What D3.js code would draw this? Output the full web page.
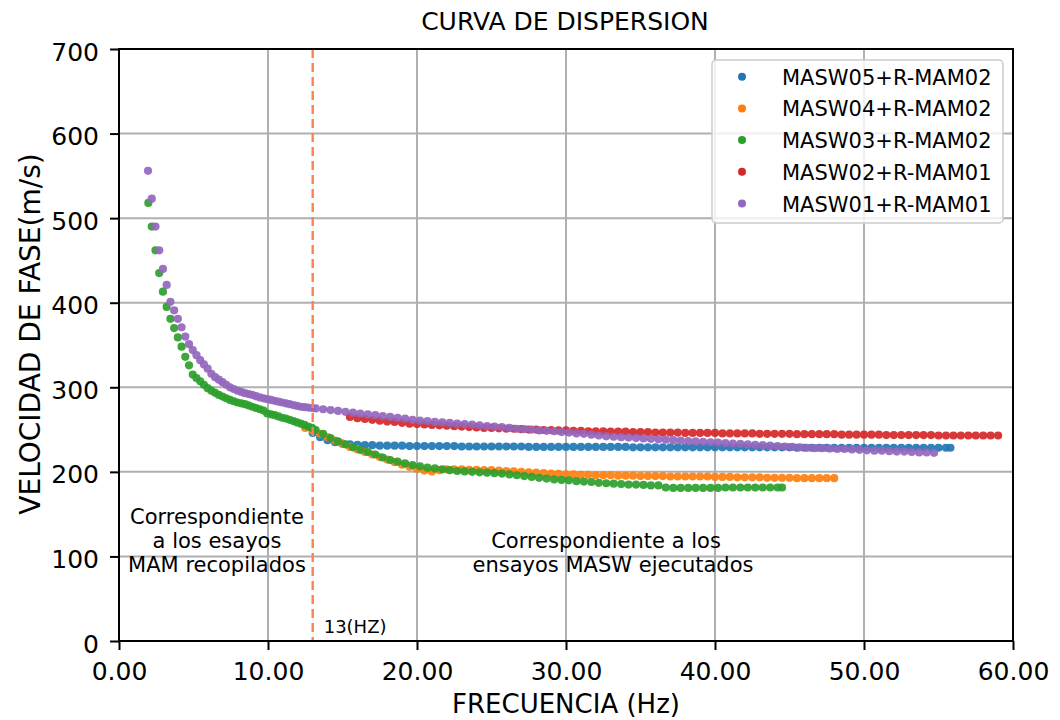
<!DOCTYPE html>
<html>
<head>
<meta charset="utf-8">
<script src="https://cdn.jsdelivr.net/npm/d3@7"></script>
<style>
  body { margin: 0; background: #fff; }
  svg { display: block; }
  text { font-family: "DejaVu Sans", sans-serif; fill: #000; }
</style>
</head>
<body>
<svg id="chart" width="1060" height="720"></svg>
<script>
// Axis ticks
const xTicks = [0, 10, 20, 30, 40, 50, 60];
const yTicks = [0, 100, 200, 300, 400, 500, 600, 700];

// Series names, in legend and drawing order
const seriesNames = ["MASW05+R-MAM02", "MASW04+R-MAM02", "MASW03+R-MAM02", "MASW02+R-MAM01", "MASW01+R-MAM01"];
const seriesColors = ["#1f77b4", "#ff7f0e", "#2ca02c", "#d62728", "#9467bd"];

// [frequency (Hz), phase velocity (m/s)]
const masw05 = [
  [13.0,246],[13.5,241],[14.0,237.5],[14.5,235],[15.0,233.5],[15.5,232.5],[16.0,232],[16.5,231.5],[17.0,231.5],[17.5,231],
  [18.0,231],[18.5,231],[19.0,231],[19.5,230.5],[20.0,230.5],[20.5,230.5],[21.0,230.5],[21.5,230.5],[22.0,230.5],[22.5,230.5],
  [23.0,230],[23.5,230],[24.0,230],[24.5,230],[25.0,230],[25.5,230],[26.0,230],[26.5,230],[27.0,230],[27.5,229.5],
  [28.0,229.5],[28.5,229.5],[29.0,229.5],[29.5,229.5],[30.0,229.5],[30.5,229.5],[31.0,229.5],[31.5,229.5],[32.0,229.5],[32.5,229.5],
  [33.0,229.5],[33.5,229.5],[34.0,229.5],[34.5,229],[35.0,229],[35.5,229],[36.0,229],[36.5,229],[37.0,229],[37.5,229],
  [38.0,229],[38.5,229],[39.0,229],[39.5,229],[40.0,229],[40.5,229],[41.0,229],[41.5,229],[42.0,229],[42.5,229],
  [43.0,229],[43.5,229],[44.0,229],[44.5,229],[45.0,229],[45.5,228.5],[46.0,228.5],[46.5,228.5],[47.0,228.5],[47.5,228.5],
  [48.0,228.5],[48.5,228.5],[49.0,228.5],[49.5,228.5],[50.0,228.5],[50.5,228.5],[51.0,228.5],[51.5,228.5],[52.0,228.5],[52.5,228.5],
  [53.0,228.5],[53.5,228.5],[54.0,228.5],[54.5,228.5],[55.0,228.5],[55.5,228.5],[55.8,228.5]
];

const masw04 = [
  [12.5,252],[13.0,249],[13.5,245],[14.0,241],[14.5,237],[15.0,233],[15.5,229.5],[16.0,226.5],[16.5,223.5],[17.0,220.5],
  [17.5,217.5],[18.0,214.5],[18.5,211.5],[19.0,208.5],[19.5,206],[20.0,203.5],[20.5,201.5],[21.0,200.5],[21.5,202],[22.0,203],
  [22.5,203],[23.0,203],[23.5,202.5],[24.0,202.5],[24.5,202],[25.0,202],[25.5,201.5],[26.0,201],[26.5,200.5],[27.0,200],
  [27.5,199.5],[28.0,199],[28.5,198.5],[29.0,198],[29.5,197.5],[30.0,197],[30.5,197],[31.0,196.5],[31.5,196.5],[32.0,196],
  [32.5,196],[33.0,196],[33.5,195.5],[34.0,195.5],[34.5,195.5],[35.0,195],[35.5,195],[36.0,195],[36.5,195],[37.0,194.5],
  [37.5,194.5],[38.0,194.5],[38.5,194.5],[39.0,194.5],[39.5,194.5],[40.0,194],[40.5,194],[41.0,194],[41.5,193.5],[42.0,193.5],
  [42.5,193.5],[43.0,193.5],[43.5,193],[44.0,193],[44.5,193],[45.0,193],[45.5,192.5],[46.0,192.5],[46.5,192.5],[47.0,192.5],
  [47.5,192.5],[48.0,192.5]
];

const masw03 = [
  [1.97,518],[2.2,490],[2.45,462],[2.7,435],[2.95,413],[3.2,395],[3.45,381],[3.7,370],[3.95,359],[4.2,348],
  [4.45,336],[4.7,326],[4.95,315],[5.2,311],[5.45,307],[5.7,303],[5.95,299],[6.2,296],[6.45,293.5],[6.7,291],
  [6.95,289],[7.2,287],[7.45,285],[7.7,283.5],[7.95,282],[8.2,281],[8.45,280],[8.7,278.5],[8.95,277],[9.2,275.5],
  [9.45,274],[9.7,272.5],[9.95,269],[10.2,268],[10.45,267],[10.7,265.5],[10.95,264],[11.2,263],[11.45,261.5],[11.7,260],
  [11.95,258.5],[12.2,257],[12.45,255.5],[12.7,253.5],[12.95,252],
  [13.2,249.5],[13.7,245],[14.2,240],[14.7,236],[15.2,232.5],[15.7,229],[16.2,226],[16.7,223.5],[17.2,220.5],[17.7,217],
  [18.2,214],[18.7,212],[19.2,210],[19.7,208],[20.2,206.5],[20.7,205],[21.2,204],[21.7,203],[22.2,202],[22.7,201],
  [23.2,200.5],[23.7,200],[24.2,199.5],[24.7,199],[25.2,198.5],[25.7,198],[26.2,197],[26.7,196],[27.2,195],[27.7,194],
  [28.2,193],[28.7,192],[29.2,191],[29.7,190.5],[30.2,190],[30.7,189],[31.2,188.5],[31.7,188],[32.2,187],[32.7,186.5],
  [33.2,186],[33.7,185.5],[34.2,185],[34.7,185],[35.2,184.5],[35.7,184],[36.2,184],[36.7,181.5],[37.2,181],[37.7,181],
  [38.2,181],[38.7,181],[39.2,181],[39.7,181],[40.2,181],[40.7,181.5],[41.2,181.5],[41.7,181.5],[42.2,181.5],[42.7,181.5],
  [43.2,181.5],[43.7,181.5],[44.2,181.5],[44.5,181.5]
];

const masw02 = [
  [15.5,265],[16.0,263.5],[16.5,262.5],[17.0,261.5],[17.5,260.5],[18.0,259.5],[18.5,259],[19.0,258],[19.5,257],[20.0,256.5],
  [20.5,256],[21.0,255.5],[21.5,255],[22.0,254.5],[22.5,254],[23.0,253.5],[23.5,253],[24.0,252.5],[24.5,252],[25.0,252],
  [25.5,251.5],[26.0,251],[26.5,251],[27.0,250.5],[27.5,250],[28.0,250],[28.5,249.5],[29.0,249.5],[29.5,249],[30.0,249],
  [30.5,248.5],[31.0,248.5],[31.5,248],[32.0,248],[32.5,248],[33.0,247.5],[33.5,247.5],[34.0,247.5],[34.5,247],[35.0,247],
  [35.5,247],[36.0,246.5],[36.5,246.5],[37.0,246.5],[37.5,246.5],[38.0,246],[38.5,246],[39.0,246],[39.5,246],[40.0,246],
  [40.5,245.5],[41.0,245.5],[41.5,245.5],[42.0,245.5],[42.5,245.5],[43.0,245],[43.5,245],[44.0,245],[44.5,245],[45.0,245],
  [45.5,244.5],[46.0,244.5],[46.5,244.5],[47.0,244.5],[47.5,244.5],[48.0,244.5],[48.5,244],[49.0,244],[49.5,244],[50.0,244],
  [50.5,244],[51.0,244],[51.5,243.5],[52.0,243.5],[52.5,243.5],[53.0,243.5],[53.5,243.5],[54.0,243.5],[54.5,243.5],[55.0,243],
  [55.5,243],[56.0,243],[56.5,243],[57.0,243],[57.5,243],[58.0,243],[58.5,243],[59.0,243]
];

const masw01 = [
  [1.95,556],[2.2,523],[2.45,490],[2.7,462],[2.95,440],[3.2,421],[3.45,401],[3.7,391],[3.95,381],[4.2,371],
  [4.45,360],[4.7,351],[4.95,344],[5.2,338],[5.45,332],[5.7,327],[5.95,322],[6.2,316],[6.45,312],[6.7,309],
  [6.95,306],[7.2,303],[7.45,300],[7.7,298],[7.95,296],[8.2,294.5],[8.45,293],[8.7,292],[8.95,291],[9.2,289.5],
  [9.45,288],[9.7,287],[9.95,286],[10.2,285],[10.45,284],[10.7,283],[10.95,282],[11.2,281],[11.45,280],[11.7,279],
  [11.95,278],[12.2,277],[12.45,276.5],[12.7,276],[12.95,275.5],
  [13.2,275],[13.7,274],[14.2,273],[14.7,272],[15.2,271],[15.7,270],[16.2,269],[16.7,268],[17.2,267],[17.7,266],
  [18.2,265],[18.7,264],[19.2,263],[19.7,261.5],[20.2,260.5],[20.7,260],[21.2,259],[21.7,258.5],[22.2,258],[22.7,257],
  [23.2,256.5],[23.7,256],[24.2,255],[24.7,254],[25.2,253.5],[25.7,253],[26.2,252],[26.7,251],[27.2,250.5],[27.7,250],
  [28.2,249],[28.7,248.5],[29.2,248],[29.7,247],[30.2,246.5],[30.7,245.5],[31.2,245],[31.7,244],[32.2,243],[32.7,242],
  [33.2,241.5],[33.7,241],[34.2,240.5],[34.7,240],[35.2,239.5],[35.7,239],[36.2,238.5],[36.7,238],[37.2,237.5],[37.7,237],
  [38.2,236.5],[38.7,236],[39.2,235.5],[39.7,235],[40.2,234.5],[40.7,234],[41.2,233.5],[41.7,233],[42.2,232.5],[42.7,232],
  [43.2,231.5],[43.7,231],[44.2,230.5],[44.7,230],[45.2,229.5],[45.7,229],[46.2,228.5],[46.7,228],[47.2,228],[47.7,227.5],
  [48.2,227],[48.7,227],[49.2,226.5],[49.7,226],[50.2,225.5],[50.7,225],[51.2,225],[51.7,224.5],[52.2,224],[52.7,224],
  [53.2,223.5],[53.7,223],[54.2,223],[54.7,222.5]
];

const seriesData = [masw05, masw04, masw03, masw02, masw01];

// Cut-off frequency separating MAM and MASW ranges
const cutoffFreq = 13;

const svg = d3.select("#chart");
const plot = { left: 119, right: 1013, top: 49, bottom: 641 };

const x = d3.scaleLinear().domain([0, 60]).range([plot.left, plot.right]);
const y = d3.scaleLinear().domain([0, 700]).range([plot.bottom, plot.top]);

// Grid
const grid = svg.append("g").attr("stroke", "#b0b0b0").attr("stroke-width", 2);
grid.selectAll(".gx").data(xTicks).join("line")
  .attr("x1", d => x(d)).attr("x2", d => x(d))
  .attr("y1", plot.top).attr("y2", plot.bottom);
grid.selectAll(".gy").data(yTicks).join("line")
  .attr("x1", plot.left).attr("x2", plot.right)
  .attr("y1", d => y(d)).attr("y2", d => y(d));

// Scatter points
seriesData.forEach((data, i) => {
  svg.append("g")
    .attr("fill", seriesColors[i])
    .attr("fill-opacity", 0.92)
    .selectAll("circle").data(data).join("circle")
    .attr("cx", d => x(d[0]))
    .attr("cy", d => y(d[1]))
    .attr("r", 4.1);
});

// Cut-off line
svg.append("line")
  .attr("x1", x(cutoffFreq)).attr("x2", x(cutoffFreq))
  .attr("y1", plot.top).attr("y2", plot.bottom)
  .attr("stroke", "#ff7f50").attr("stroke-width", 2.4)
  .attr("stroke-dasharray", "9,5");

// Axes
const xAxis = svg.append("g")
  .attr("transform", `translate(0,${plot.bottom})`)
  .call(d3.axisBottom(x).tickValues(xTicks).tickFormat(d3.format(".2f")).tickSize(9).tickSizeOuter(0));
xAxis.selectAll("text").attr("dy", null).attr("y", 39).attr("font-size", 25);

const yAxis = svg.append("g")
  .attr("transform", `translate(${plot.left},0)`)
  .call(d3.axisLeft(y).tickValues(yTicks).tickFormat(d3.format("d")).tickSize(9).tickSizeOuter(0));
yAxis.selectAll("text").attr("x", -20).attr("dy", "0.44em").attr("font-size", 25);

[xAxis, yAxis].forEach(a => {
  a.select(".domain").remove();
  a.selectAll(".tick line").attr("stroke", "#000").attr("stroke-width", 2);
  a.selectAll("text").attr("font-family", "DejaVu Sans").attr("fill", "#000");
});

// Frame
svg.append("rect")
  .attr("x", plot.left).attr("y", plot.top)
  .attr("width", plot.right - plot.left).attr("height", plot.bottom - plot.top)
  .attr("fill", "none").attr("stroke", "#000").attr("stroke-width", 2);

// Titles
svg.append("text").attr("x", 565).attr("y", 30).attr("text-anchor", "middle")
  .attr("font-size", 25).text("CURVA DE DISPERSION");
svg.append("text").attr("x", 566).attr("y", 713).attr("text-anchor", "middle")
  .attr("font-size", 26).text("FRECUENCIA (Hz)");
svg.append("text").attr("transform", "translate(40,334) rotate(-90)").attr("text-anchor", "middle")
  .attr("font-size", 28).text("VELOCIDAD DE FASE(m/s)");

// Annotations
const note1 = ["Correspondiente", "a los esayos", "MAM recopilados"];
svg.append("g").selectAll("text").data(note1).join("text")
  .attr("x", 217).attr("y", (d, i) => 524 + i * 24)
  .attr("text-anchor", "middle").attr("font-size", 21).text(d => d);

const note2 = ["Correspondiente a los", "ensayos MASW ejecutados"];
svg.append("g").selectAll("text").data(note2).join("text")
  .attr("x", (d, i) => i === 0 ? 606 : 613).attr("y", (d, i) => 548 + i * 24)
  .attr("text-anchor", "middle").attr("font-size", 21).text(d => d);

svg.append("text").attr("x", x(cutoffFreq) + 11).attr("y", 633)
  .attr("font-size", 18).text("13(HZ)");

// Legend
const legend = svg.append("g");
legend.append("rect")
  .attr("x", 712).attr("y", 60).attr("width", 291).attr("height", 163)
  .attr("rx", 4).attr("fill", "#fff").attr("fill-opacity", 0.8)
  .attr("stroke", "#cccccc").attr("stroke-width", 1.5);
const rows = legend.selectAll(".row").data(seriesNames).join("g")
  .attr("transform", (d, i) => `translate(0,${76.7 + i * 31.7})`);
rows.append("circle").attr("cx", 742).attr("cy", 0).attr("r", 4)
  .attr("fill", (d, i) => seriesColors[i]);
rows.append("text").attr("x", 782).attr("y", 8).attr("font-size", 21).text(d => d);
</script>
</body>
</html>
